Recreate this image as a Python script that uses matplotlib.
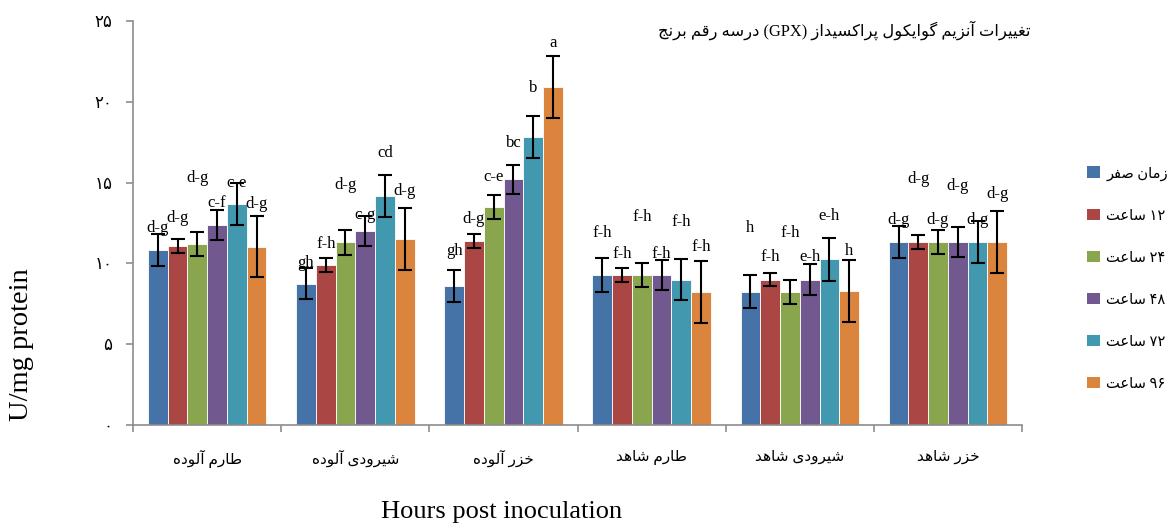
import numpy as np
import matplotlib
matplotlib.use("Agg")
import matplotlib.pyplot as plt
from matplotlib.patches import Patch

# ---- data ----
categories = ["طارم آلوده", "شیرودی آلوده", "خزر آلوده", "طارم شاهد", "شیرودی شاهد", "خزر شاهد"]
series = ["زمان صفر", "۱۲ ساعت", "۲۴ ساعت", "۴۸ ساعت", "۷۲ ساعت", "۹۶ ساعت"]

values_0h = [10.83, 8.74, 8.60, 9.28, 8.25, 11.34]
values_12h = [11.08, 9.90, 11.40, 9.28, 9.00, 11.34]
values_24h = [11.20, 11.30, 13.47, 9.28, 8.25, 11.34]
values_48h = [12.38, 12.00, 15.20, 9.28, 9.00, 11.34]
values_72h = [13.68, 14.17, 17.84, 9.00, 10.25, 11.34]
values_96h = [11.03, 11.49, 20.93, 8.21, 8.29, 11.34]

err_0h = [0.97, 0.95, 1.02, 1.03, 1.01, 0.98]
err_12h = [0.42, 0.43, 0.44, 0.44, 0.41, 0.42]
err_24h = [0.74, 0.75, 0.75, 0.72, 0.74, 0.74]
err_48h = [0.91, 0.94, 0.91, 0.91, 0.95, 0.93]
err_72h = [1.29, 1.29, 1.29, 1.29, 1.31, 1.29]
err_96h = [1.90, 1.91, 1.91, 1.91, 1.90, 1.91]

letters_0h = ["d-g", "gh", "gh", "f-h", "h", "d-g"]
letters_12h = ["d-g", "f-h", "d-g", "f-h", "f-h", "d-g"]
letters_24h = ["d-g", "d-g", "c-e", "f-h", "f-h", "d-g"]
letters_48h = ["c-f", "c-g", "bc", "f-h", "e-h", "d-g"]
letters_72h = ["c-e", "cd", "b", "f-h", "e-h", "d-g"]
letters_96h = ["d-g", "d-g", "a", "f-h", "h", "d-g"]

values = [values_0h, values_12h, values_24h, values_48h, values_72h, values_96h]
errors = [err_0h, err_12h, err_24h, err_48h, err_72h, err_96h]
letters = [letters_0h, letters_12h, letters_24h, letters_48h, letters_72h, letters_96h]

# height (in data units) where each significance letter sits
label_y = [
    [12.19, 10.04, 10.79, 11.86, 12.17, 12.69],
    [12.81, 11.20, 12.73, 10.58, 10.38, 15.22],
    [15.28, 14.85, 15.37, 12.89, 11.86, 12.69],
    [13.74, 13.00, 17.47, 10.58, 10.38, 14.79],
    [14.98, 16.85, 20.83, 12.58, 12.93, 12.69],
    [13.68, 14.50, 23.66, 11.03, 10.79, 14.29],
]

colors = ["#4572A7", "#AA4643", "#89A54E", "#71588F", "#4198AF", "#DB843D"]

# ---- minimal Persian shaping (matplotlib has no complex text layout) ----
FORMS = {
    'ا': (0xFE8D, 0xFE8E), 'آ': (0xFE81, 0xFE82), 'د': (0xFEA9, 0xFEAA),
    'ر': (0xFEAD, 0xFEAE), 'ز': (0xFEAF, 0xFEB0), 'و': (0xFEED, 0xFEEE),
    'ب': (0xFE8F, 0xFE90, 0xFE91, 0xFE92), 'پ': (0xFB56, 0xFB57, 0xFB58, 0xFB59),
    'ت': (0xFE95, 0xFE96, 0xFE97, 0xFE98), 'ج': (0xFE9D, 0xFE9E, 0xFE9F, 0xFEA0),
    'خ': (0xFEA5, 0xFEA6, 0xFEA7, 0xFEA8), 'س': (0xFEB1, 0xFEB2, 0xFEB3, 0xFEB4),
    'ش': (0xFEB5, 0xFEB6, 0xFEB7, 0xFEB8), 'ص': (0xFEB9, 0xFEBA, 0xFEBB, 0xFEBC),
    'ط': (0xFEC1, 0xFEC2, 0xFEC3, 0xFEC4), 'ع': (0xFEC9, 0xFECA, 0xFECB, 0xFECC),
    'غ': (0xFECD, 0xFECE, 0xFECF, 0xFED0), 'ف': (0xFED1, 0xFED2, 0xFED3, 0xFED4),
    'ق': (0xFED5, 0xFED6, 0xFED7, 0xFED8), 'ک': (0xFB8E, 0xFB8F, 0xFB90, 0xFB91),
    'گ': (0xFB92, 0xFB93, 0xFB94, 0xFB95), 'ل': (0xFEDD, 0xFEDE, 0xFEDF, 0xFEE0),
    'م': (0xFEE1, 0xFEE2, 0xFEE3, 0xFEE4), 'ن': (0xFEE5, 0xFEE6, 0xFEE7, 0xFEE8),
    'ه': (0xFEE9, 0xFEEA, 0xFEEB, 0xFEEC), 'ی': (0xFBFC, 0xFBFD, 0xFBFE, 0xFBFF),
}


def shape_word(w):
    out = []
    for i, ch in enumerate(w):
        f = FORMS.get(ch)
        if f is None:
            out.append(ch)
            continue
        prev = FORMS.get(w[i - 1]) if i > 0 else None
        nxt = FORMS.get(w[i + 1]) if i + 1 < len(w) else None
        join_prev = prev is not None and len(prev) == 4
        join_next = len(f) == 4 and nxt is not None
        if join_prev and join_next:
            out.append(chr(f[3]))
        elif join_prev:
            out.append(chr(f[1]))
        elif join_next:
            out.append(chr(f[2]))
        else:
            out.append(chr(f[0]))
    return ''.join(out)


def fa(text):
    vis = []
    for w in reversed([w for w in text.split(' ') if w]):
        if any(ch in FORMS for ch in w):
            vis.append(shape_word(w)[::-1])
        else:
            vis.append(w)
    return ' '.join(vis)


plt.rcParams['font.family'] = ['Liberation Serif', 'DejaVu Sans']

fig = plt.figure(figsize=(11.68, 5.25), dpi=100)
ax = fig.add_axes([0.114, 0.1905, 0.761, 0.7695])

n_series = len(series)
x = np.arange(len(categories))
width = 0.8 / n_series
gray = "#8C8C8C"

for i in range(n_series):
    pos = x - 0.4 + width * (i + 0.5)
    ax.bar(pos, values[i], width, color=colors[i], edgecolor="white", linewidth=0.6,
           zorder=2)
    ax.errorbar(pos, values[i], yerr=errors[i], fmt="none", ecolor="black",
                elinewidth=1.5, capsize=5, capthick=1.5, zorder=3)
    for j in range(len(categories)):
        ax.text(pos[j], label_y[i][j], letters[i][j], ha="center", va="center",
                fontsize=12, zorder=4)

ax.set_xlim(-0.5, len(categories) - 0.5)
ax.set_ylim(0, 25)

yt = [0, 5, 10, 15, 20, 25]
ax.set_yticks(yt)
ax.set_yticklabels(["۰", "۵", "۱۰", "۱۵", "۲۰", "۲۵"], fontsize=12)
ax.set_xticks(x)
ax.set_xticklabels([fa(c) for c in categories], fontsize=11)
ax.set_xticks(np.arange(-0.5, len(categories)), minor=True)

ax.tick_params(axis="x", which="major", length=0, pad=18)
ax.tick_params(axis="x", which="minor", length=5, color=gray, width=1.2)
ax.tick_params(axis="y", length=5, color=gray, width=1.2, pad=10)

for s in ["top", "right"]:
    ax.spines[s].set_visible(False)
for s in ["left", "bottom"]:
    ax.spines[s].set_color(gray)
    ax.spines[s].set_linewidth(1.2)

fig.text(0.882, 0.943, fa("تغییرات آنزیم گوایکول پراکسیداز (GPX) درسه رقم برنج"),
         ha="right", va="center", fontsize=11.8)
fig.text(0.429, 0.025, "Hours post inoculation", ha="center", va="center", fontsize=19)
fig.text(0.018, 0.343, "U/mg protein", ha="center", va="center", rotation=90, fontsize=20.5)

handles = [Patch(facecolor=c, edgecolor="none") for c in colors]
fig.legend(handles, [fa(s) for s in series], loc="upper left",
           bbox_to_anchor=(1080 / 1168, 1 - 159 / 525), frameon=False,
           fontsize=10.5, handlelength=0.85, handleheight=0.85,
           handletextpad=0.45, labelspacing=1.93, borderpad=0)

fig.savefig("out.png", dpi=100)
